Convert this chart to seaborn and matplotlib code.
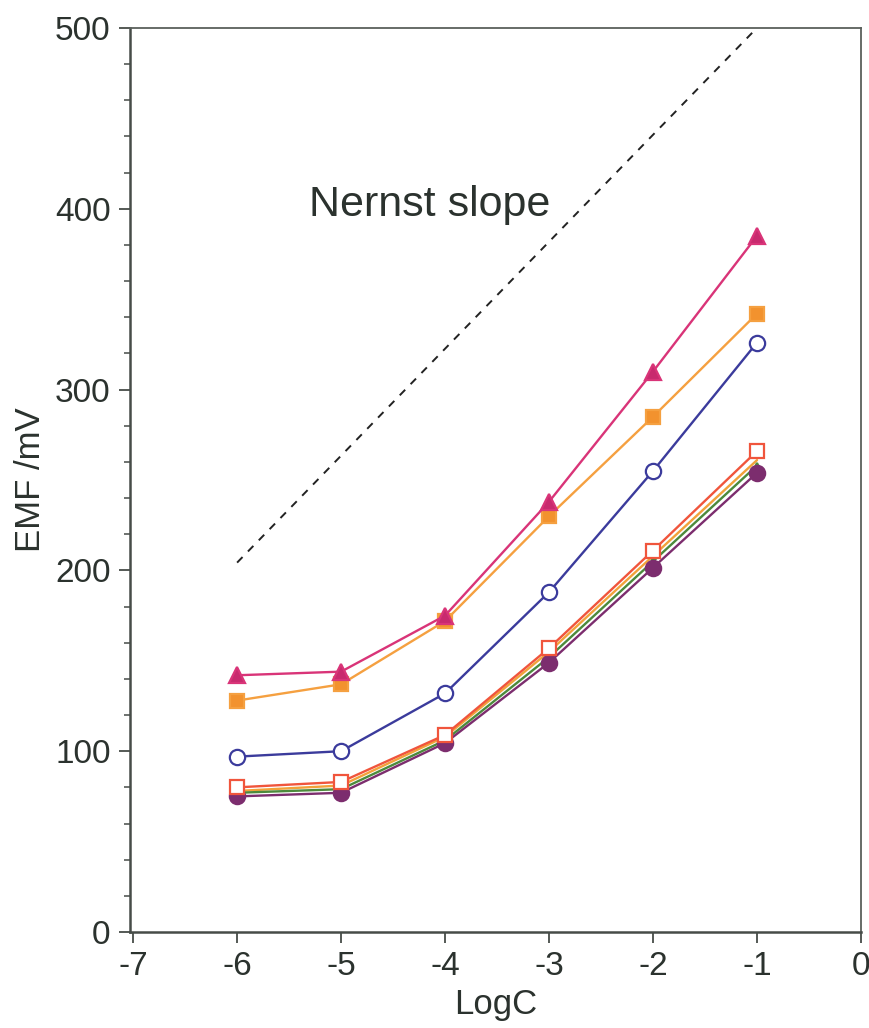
import matplotlib
matplotlib.use("Agg")
import matplotlib.pyplot as plt
from matplotlib.ticker import MultipleLocator
import seaborn as sns
import pandas as pd

# Electrode response: EMF vs log concentration for each membrane
log_c = [-6, -5, -4, -3, -2, -1]

emf_triangle = [142, 144, 175, 238, 310, 385]
emf_square_filled = [128, 137, 172, 230, 285, 342]
emf_circle_open = [97, 100, 132, 188, 255, 326]
emf_square_open = [80, 83, 109, 157, 211, 266]
emf_orange = [78, 81, 108, 155, 208, 261]
emf_green = [77, 79, 106, 152, 205, 258]
emf_circle_filled = [75, 77, 104.5, 149, 201.5, 254]

# Theoretical Nernstian response (59.16 mV per decade)
nernst_x = [-6, -1]
nernst_y = [204.3, 500.1]

x_ticks = [-7, -6, -5, -4, -3, -2, -1, 0]
y_ticks = [0, 100, 200, 300, 400, 500]

sns.set_theme(style="white")
plt.rcParams["font.family"] = ["Liberation Sans", "DejaVu Sans"]

text_col = "#2b322e"
axis_col = "#464c48"

fig = plt.figure(figsize=(8.7, 10.28), dpi=100)
ax = fig.add_axes([130 / 870, 1 - 932 / 1028, (861 - 130) / 870, (932 - 28) / 1028])

series = [
    (emf_orange, "#f2a23a", None, None, 0),
    (emf_green, "#4c8a3c", "^", "#3d7f6a", 5),
    (emf_circle_filled, "#7c2d6e", "o", "#7c2d6e", 11),
    (emf_square_open, "#f0553c", "s", "white", 10),
    (emf_circle_open, "#3b3b9c", "o", "white", 11),
    (emf_square_filled, "#f5a040", "s", "#f2922e", 10),
    (emf_triangle, "#d93478", "^", "#c82a6e", 11),
]

for vals, col, mk, face, ms in series:
    df = pd.DataFrame({"LogC": log_c, "EMF": vals})
    kw = dict(x="LogC", y="EMF", data=df, ax=ax, color=col, linewidth=1.7)
    if mk is None:
        sns.lineplot(**kw)
    else:
        sns.lineplot(**kw, marker=mk, markersize=ms, markerfacecolor=face,
                     markeredgecolor=col, markeredgewidth=1.6)

nernst_df = pd.DataFrame({"LogC": nernst_x, "EMF": nernst_y})
sns.lineplot(data=nernst_df, x="LogC", y="EMF", ax=ax, color="#222222",
             linewidth=1.4, dashes=False, linestyle=(0, (4, 4)))

ax.text(-4.15, 402, "Nernst slope", fontsize=31, color=text_col,
        ha="center", va="center")

ax.set_xlim(-7.03, 0)
ax.set_ylim(0, 500)
ax.set_xticks(x_ticks)
ax.set_xticklabels([str(v) for v in x_ticks])
ax.set_yticks(y_ticks)
ax.yaxis.set_minor_locator(MultipleLocator(20))

ax.set_xlabel("LogC", fontsize=25, color=text_col, labelpad=4)
ax.set_ylabel("EMF /mV", fontsize=25, color=text_col, labelpad=6)

ax.tick_params(axis="both", which="major", direction="out", length=8,
               width=1.3, color=axis_col, labelsize=24, labelcolor=text_col,
               pad=6)
ax.tick_params(axis="y", which="minor", direction="out", length=4,
               width=1.1, color=axis_col, left=True)
ax.tick_params(axis="x", which="major", bottom=True)
ax.tick_params(axis="y", which="major", left=True)

for side in ["left", "bottom"]:
    ax.spines[side].set_color(axis_col)
    ax.spines[side].set_linewidth(1.8)
for side in ["top", "right"]:
    ax.spines[side].set_color("#5a605c")
    ax.spines[side].set_linewidth(1.3)

ax.grid(False)
fig.savefig("out.png", dpi=100, facecolor="white")
